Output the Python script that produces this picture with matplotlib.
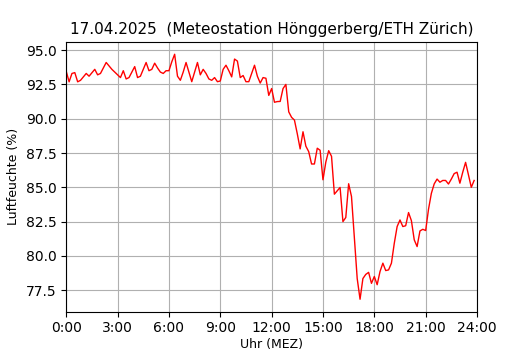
import numpy as np
import matplotlib
matplotlib.use("Agg")
import matplotlib.pyplot as plt

# Luftfeuchte alle 10 Minuten, 0:00 bis 23:50
humidity = [
    93.45, 92.69, 93.30, 93.36, 92.69, 92.80,   # 0h
    93.05, 93.30, 93.10, 93.35, 93.60, 93.20,   # 1h
    93.30, 93.70, 94.10, 93.85, 93.60, 93.40,   # 2h
    93.20, 93.00, 93.50, 92.90, 93.00, 93.40,   # 3h
    93.80, 93.00, 93.10, 93.60, 94.10, 93.50,   # 4h
    93.60, 94.05, 93.70, 93.40, 93.30, 93.50,   # 5h
    93.50, 94.15, 94.70, 93.10, 92.80, 93.40,   # 6h
    94.10, 93.40, 92.70, 93.40, 94.10, 93.20,   # 7h
    93.60, 93.30, 92.90, 92.80, 93.00, 92.70,   # 8h
    92.75, 93.60, 93.90, 93.50, 93.05, 94.35,   # 9h
    94.20, 93.00, 93.15, 92.70, 92.70, 93.30,   # 10h
    93.90, 93.10, 92.60, 93.00, 92.95, 91.70,   # 11h
    92.20, 91.20, 91.25, 91.26, 92.20, 92.50,   # 12h
    90.50, 90.10, 89.90, 88.90, 87.80, 89.05,   # 13h
    88.00, 87.60, 86.70, 86.70, 87.85, 87.70,   # 14h
    85.55, 86.84, 87.67, 87.26, 84.50, 84.74,   # 15h
    84.99, 82.50, 82.80, 85.26, 84.33, 81.30,   # 16h
    78.35, 76.84, 78.35, 78.65, 78.80, 78.00,   # 17h
    78.50, 77.90, 78.86, 79.47, 78.93, 78.98,   # 18h
    79.47, 80.92, 82.14, 82.62, 82.14, 82.20,   # 19h
    83.16, 82.57, 81.17, 80.68, 81.82, 81.94,   # 20h
    81.85, 83.40, 84.56, 85.25, 85.60, 85.37,   # 21h
    85.50, 85.50, 85.24, 85.60, 86.00, 86.10,   # 22h
    85.30, 86.10, 86.82, 85.90, 85.00, 85.50,   # 23h
]
hours = np.arange(len(humidity)) / 6.0

tick_hours = [0, 3, 6, 9, 12, 15, 18, 21, 24]
tick_labels = ["0:00", "3:00", "6:00", "9:00", "12:00", "15:00", "18:00", "21:00", "24:00"]

fig, ax = plt.subplots(figsize=(5.3, 3.5), dpi=100)
ax.plot(hours, humidity, color="red", linewidth=1)
ax.set_xlim(0, 24)
ax.set_xticks(tick_hours)
ax.set_xticklabels(tick_labels)
ax.grid(True)
ax.set_title("17.04.2025  (Meteostation Hönggerberg/ETH Zürich)", fontsize=11)
ax.set_xlabel("Uhr (MEZ)", fontsize=9, labelpad=2)
ax.set_ylabel("Luftfeuchte (%)", fontsize=9)

plt.savefig("out.png")
